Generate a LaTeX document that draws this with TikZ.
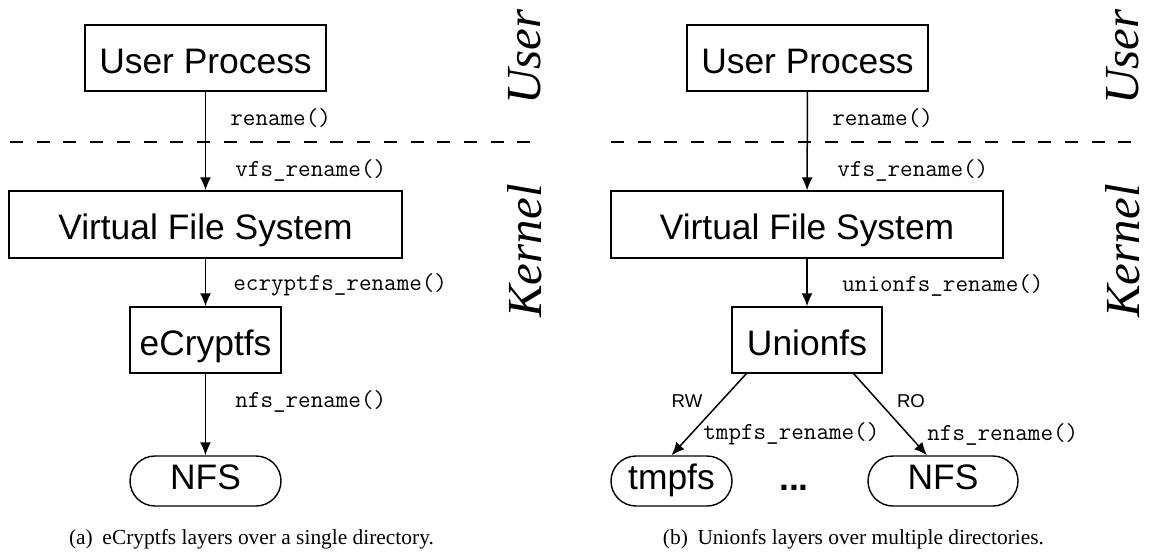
\documentclass[tikz,border=0pt]{standalone}
\usepackage{fontspec}
\setmainfont{Liberation Serif}
\setsansfont{Liberation Sans}
\usetikzlibrary{arrows.meta, positioning}
\tikzstyle{fslayer} = [rectangle, draw, line width=0.7pt, inner sep=0pt, text height=15pt, text depth=0pt, font=\sffamily\fontsize{17.7}{20}\selectfont]
\tikzstyle{fsstore} = [fslayer, rounded corners=12.5pt, minimum height=25pt, text height=12.7pt, text depth=4pt]
\tikzstyle{fncall} = [anchor=west, inner sep=0pt, font=\ttfamily\fontsize{12.2}{14}\selectfont]
\tikzstyle{accmode} = [inner sep=0pt, font=\sffamily\fontsize{9.3}{11}\selectfont]
\tikzstyle{ringname} = [inner sep=0pt, rotate=90, font=\itshape\fontsize{24.5}{28}\selectfont]
\tikzstyle{subcap} = [inner sep=0pt, font=\fontsize{10.7}{13}\selectfont]
\tikzstyle{callarrow} = [draw, line width=0.75pt, -{Latex[length=6.5pt, width=5.5pt]}]
\tikzstyle{ringline} = [draw, line width=0.7pt, dash pattern=on 6.5pt off 6.85pt]

\begin{document}
\begin{tikzpicture}[x=0.5pt, y=-0.5pt]
			\useasboundingbox (0, 0) rectangle (1150, 552);

			% (a) eCryptfs
			\node [fslayer, minimum width=120.5pt, minimum height=33pt] (userA) at (205.5, 58) {User Process};
			\node [fslayer, minimum width=196.5pt, minimum height=33.5pt] (vfsA) at (205.5, 224.5) {Virtual File System};
			\node [fslayer, minimum width=75.5pt, minimum height=33pt] (ecryptfs) at (205.5, 340) {eCryptfs};
			\node [fsstore, minimum width=75.5pt] (nfsA) at (205.5, 481) {NFS};

			\node [fncall] (renameA) at (230, 118) {rename()};
			\node [fncall] (vfsrenA) at (235, 170) {vfs\_rename()};
			\node [fncall] (ecrenA) at (233, 285) {ecryptfs\_rename()};
			\node [fncall] (nfsrenA) at (235, 401) {nfs\_rename()};

			\coordinate (ringA1) at (10, 142);
			\coordinate (ringA2) at (530, 142);
			\path [ringline] (ringA1) -- (ringA2);
			\node [ringname] (userringA) at (525, 57) {User};
			\node [ringname] (kernelringA) at (525, 251) {Kernel};

			\path [callarrow] (userA) -- (vfsA);
			\path [callarrow] (vfsA) -- (ecryptfs);
			\path [callarrow] (ecryptfs) -- (nfsA);

			\node [subcap] (capA) at (251.5, 539) {(a)\hspace{0.45em}eCryptfs layers over a single directory.};

			% (b) Unionfs
			\node [fslayer, minimum width=120.5pt, minimum height=33pt] (userB) at (807.5, 58) {User Process};
			\node [fslayer, minimum width=196pt, minimum height=33.5pt] (vfsB) at (807, 224.5) {Virtual File System};
			\node [fslayer, minimum width=75pt, minimum height=33pt] (unionfs) at (807, 340) {Unionfs};
			\node [fsstore, minimum width=60.5pt] (tmpfs) at (671.5, 481) {tmpfs};
			\node [fsstore, minimum width=75pt] (nfsB) at (943, 481) {NFS};
			\node [inner sep=0pt, anchor=base, font=\sffamily\bfseries\fontsize{17.7}{20}\selectfont] (more) at (794, 490) {...};

			\node [fncall] (renameB) at (832, 118) {rename()};
			\node [fncall] (vfsrenB) at (837, 170) {vfs\_rename()};
			\node [fncall] (unrenB) at (842, 285) {unionfs\_rename()};
			\node [fncall] (tmprenB) at (703, 434) {tmpfs\_rename()};
			\node [fncall] (nfsrenB) at (927, 434) {nfs\_rename()};
			\node [accmode] (rw) at (687, 401) {RW};
			\node [accmode] (ro) at (911, 401) {RO};

			\coordinate (ringB1) at (611, 142);
			\coordinate (ringB2) at (1131, 142);
			\path [ringline] (ringB1) -- (ringB2);
			\node [ringname] (userringB) at (1123, 57) {User};
			\node [ringname] (kernelringB) at (1123, 251) {Kernel};

			\path [callarrow] (userB) -- (vfsB);
			\path [callarrow] (vfsB) -- (unionfs);
			\path [callarrow] ([xshift=7.5pt]unionfs.south west) -- (tmpfs.north);
			\path [callarrow] ([xshift=-14.5pt]unionfs.south east) -- ([xshift=-8pt]nfsB.north);

			\node [subcap] (capB) at (853.5, 539) {(b)\hspace{0.45em}Unionfs layers over multiple directories.};
		\end{tikzpicture}
\end{document}
